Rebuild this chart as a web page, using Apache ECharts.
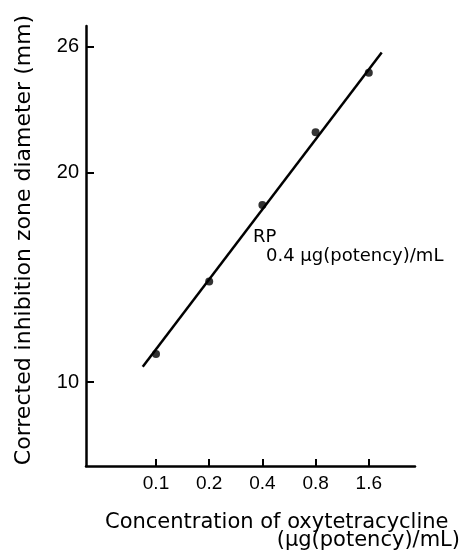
<!DOCTYPE html>
<html>
<head>
<meta charset="utf-8">
<script src="https://cdn.jsdelivr.net/npm/echarts@6/dist/echarts.min.js"></script>
<style>
  html, body { margin: 0; padding: 0; background: #fff; }
  #chart { width: 464px; height: 558px; }
</style>
</head>
<body>
<div id="chart"></div>
<script>
// measured points (concentration in µg(potency)/mL, zone diameter in mm)
const concentrations = [0.1, 0.2, 0.4, 0.8, 1.6];
const diameters = [11.35, 14.8, 18.46, 21.93, 24.77];

// fitted line end points
const fitConcentrations = [0.0841, 1.893];
const fitDiameters = [10.74, 25.73];

const xTickLabels = ['0.1', '0.2', '0.4', '0.8', '1.6'];
const yTickValues = [10, 20, 26];

const FONT = 'DejaVu Sans';
const TICK_FONT = 'Liberation Sans';

// x axis is a doubling scale: plot log2 of the concentration
const xTickValues = concentrations.map(c => Math.log2(c));
const points = concentrations.map((c, i) => [Math.log2(c), diameters[i]]);
const fitLine = fitConcentrations.map((c, i) => [Math.log2(c), fitDiameters[i]]);

const chart = echarts.init(document.getElementById('chart'));

const option = {
  backgroundColor: '#fff',
  animation: false,
  grid: { left: 86, top: 26, width: 329, height: 440, containLabel: false },
  xAxis: {
    type: 'value',
    min: -4.6377,
    max: 1.5465,
    axisLine: { show: true, onZero: false, lineStyle: { color: '#000', width: 2.5 } },
    axisTick: { show: true, inside: true, length: 7, lineStyle: { color: '#000', width: 2 }, customValues: xTickValues },
    axisLabel: {
      customValues: xTickValues,
      margin: 8,
      color: '#000',
      fontFamily: TICK_FONT,
      fontSize: 19,
      formatter: function (v) {
        let best = 0;
        xTickValues.forEach((t, i) => { if (Math.abs(t - v) < Math.abs(xTickValues[best] - v)) best = i; });
        return xTickLabels[best];
      }
    },
    splitLine: { show: false }
  },
  yAxis: {
    type: 'value',
    min: 6,
    max: 27,
    axisLine: { show: true, onZero: false, lineStyle: { color: '#000', width: 2.5 } },
    axisTick: { show: true, inside: true, length: 8, lineStyle: { color: '#000', width: 2 }, customValues: yTickValues },
    axisLabel: {
      customValues: yTickValues,
      margin: 7,
      color: '#000',
      fontFamily: TICK_FONT,
      fontSize: 20
    },
    splitLine: { show: false }
  },
  graphic: [
    {
      type: 'text',
      x: 24.5, y: 240,
      rotation: Math.PI / 2,
      style: {
        text: 'Corrected inhibition zone diameter (mm)',
        fontFamily: FONT, fontSize: 22, fill: '#000',
        align: 'center', verticalAlign: 'middle'
      }
    },
    {
      type: 'text',
      x: 105, y: 523,
      style: {
        text: 'Concentration of oxytetracycline',
        fontFamily: FONT, fontSize: 21, fill: '#000',
        align: 'left', verticalAlign: 'middle'
      }
    },
    {
      type: 'text',
      x: 460, y: 541,
      style: {
        text: '(µg(potency)/mL)',
        fontFamily: FONT, fontSize: 21, fill: '#000',
        align: 'right', verticalAlign: 'middle'
      }
    },
    {
      type: 'text',
      x: 253, y: 237,
      style: {
        text: 'RP',
        fontFamily: FONT, fontSize: 18, fill: '#000',
        align: 'left', verticalAlign: 'middle'
      }
    },
    {
      type: 'text',
      x: 266, y: 256,
      style: {
        text: '0.4 µg(potency)/mL',
        fontFamily: FONT, fontSize: 18, fill: '#000',
        align: 'left', verticalAlign: 'middle'
      }
    }
  ],
  series: [
    {
      name: 'fit',
      type: 'line',
      data: fitLine,
      symbol: 'none',
      lineStyle: { color: '#000', width: 2.5 },
      silent: true
    },
    {
      name: 'points',
      type: 'scatter',
      data: points,
      symbol: 'circle',
      symbolSize: 8,
      itemStyle: { color: '#000' }
    }
  ]
};

chart.setOption(option);
</script>
</body>
</html>
